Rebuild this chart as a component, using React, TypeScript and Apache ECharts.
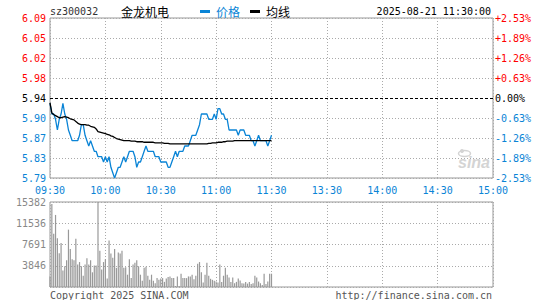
import { useEffect, useRef } from "react";
import * as echarts from "echarts";

const PRECLOSE = 5.94;
const STEP = 0.0375;
const VOL_MAX = 15382;

const timeTicks = ["09:30", "10:00", "10:30", "11:00", "11:30", "13:30", "14:00", "14:30", "15:00"];
const priceTicks = ["5.79", "5.83", "5.87", "5.90", "5.94", "5.98", "6.02", "6.05", "6.09"];
const pctTicks = ["-2.53%", "-1.89%", "-1.26%", "-0.63%", "0.00%", "+0.63%", "+1.26%", "+1.89%", "+2.53%"];
const volTicks = ["", "3846", "7691", "11536", "15382"];

// minute-by-minute price 09:30 .. 11:30
const prices = [
  5.93, 5.91, 5.91, 5.90, 5.88, 5.90, 5.91, 5.93, 5.91, 5.90,
  5.88, 5.87, 5.86, 5.86, 5.86, 5.86, 5.87, 5.89, 5.89, 5.87,
  5.86, 5.85, 5.86, 5.85, 5.84, 5.84, 5.83, 5.83, 5.83, 5.82,
  5.83, 5.82, 5.83, 5.81, 5.80, 5.79, 5.80, 5.81, 5.81, 5.82,
  5.83, 5.82, 5.83, 5.84, 5.84, 5.84, 5.83, 5.81, 5.82, 5.82,
  5.83, 5.84, 5.85, 5.84, 5.84, 5.84, 5.84, 5.83, 5.83, 5.83,
  5.82, 5.82, 5.82, 5.82, 5.81, 5.81, 5.82, 5.83, 5.84, 5.83,
  5.84, 5.84, 5.84, 5.85, 5.85, 5.85, 5.86, 5.87, 5.87, 5.87,
  5.88, 5.89, 5.91, 5.91, 5.91, 5.91, 5.90, 5.90, 5.90, 5.91,
  5.90, 5.92, 5.92, 5.91, 5.91, 5.90, 5.90, 5.88, 5.88, 5.88,
  5.88, 5.88, 5.87, 5.88, 5.88, 5.88, 5.87, 5.87, 5.87, 5.86,
  5.86, 5.85, 5.86, 5.87, 5.86, 5.86, 5.86, 5.86, 5.85, 5.86,
  5.87,
];

const avgPrices = [
  5.931, 5.912, 5.909, 5.907, 5.905, 5.903, 5.903, 5.904, 5.905, 5.904,
  5.903, 5.901, 5.900, 5.899, 5.896, 5.893, 5.891, 5.890, 5.890, 5.890,
  5.889, 5.889, 5.887, 5.886, 5.885, 5.882, 5.877, 5.876, 5.875, 5.874,
  5.873, 5.872, 5.871, 5.869, 5.868, 5.866, 5.864, 5.863, 5.862, 5.861,
  5.860, 5.860, 5.860, 5.860, 5.859, 5.859, 5.859, 5.858, 5.858, 5.858,
  5.858, 5.857, 5.857, 5.857, 5.857, 5.857, 5.857, 5.856, 5.856, 5.856,
  5.856, 5.856, 5.855, 5.855, 5.855, 5.854, 5.854, 5.854, 5.854, 5.854,
  5.854, 5.854, 5.854, 5.854, 5.854, 5.854, 5.854, 5.854, 5.854, 5.854,
  5.854, 5.854, 5.854, 5.854, 5.854, 5.854, 5.855, 5.855, 5.856, 5.856,
  5.856, 5.857, 5.857, 5.857, 5.858, 5.858, 5.859, 5.859, 5.859, 5.859,
  5.860, 5.860, 5.860, 5.860, 5.860, 5.860, 5.860, 5.860, 5.860, 5.860,
  5.860, 5.860, 5.860, 5.860, 5.860, 5.860, 5.860, 5.860, 5.860, 5.860,
  5.860,
];

const volumes = [
  1916, 15017, 9641, 13040, 8837, 6118, 7972, 2966, 3770, 4820,
  10382, 6860, 5006, 4820, 8714, 4079, 4511, 3770, 2039, 4079,
  5191, 4079, 4820, 2657, 3893, 3893, 15382, 6551, 3152, 4511,
  5006, 1545, 8405, 6056, 5315, 6860, 3461, 6242, 6056, 6551,
  3461, 3584, 2225, 5006, 1607, 4079, 4388, 4820, 3770, 2225,
  1112, 3461, 3646, 2039, 1298, 2225, 1112, 680, 1607, 1298,
  1545, 1607, 927, 1545, 1792, 1916, 1607, 1607, 185, 1916,
  185, 2410, 1607, 1607, 1607, 1916, 1916, 2225, 1421, 2039,
  4202, 4511, 2657, 803, 2225, 4388, 2039, 1483, 1298, 1112,
  989, 803, 4079, 927, 2039, 3461, 2225, 1730, 927, 1730,
  680, 927, 1545, 1174, 680, 618, 927, 618, 927, 556,
  680, 2039, 1730, 989, 680, 371, 2410, 556, 989, 2410,
  2410,
];

const BLUE = "#0a84d6";
const RED = "#ff0000";
const MONO = "'DejaVu Sans Mono', monospace";
const CJK = "'Noto Sans CJK SC', sans-serif";

export default function App() {
  const ref = useRef<HTMLDivElement>(null);
  useEffect(() => {
    if (!ref.current) return;
    const chart = echarts.init(ref.current, undefined, { renderer: "svg" });
    const levelColor = (v: any) => {
      const n = Number(v);
      return n > 0.001 ? RED : n < -0.001 ? BLUE : "#000";
    };
    const gridLineColors = ["#aaa", "#aaa", "#aaa", "#aaa", "rgba(0,0,0,0)", "#aaa", "#aaa", "#aaa", "#aaa"];
    const option: any = {
      animation: false,
      backgroundColor: "#fff",
      grid: [
        { left: 50, right: 52, top: 18, height: 160, show: true, borderColor: "#999", borderWidth: 1 },
        { left: 50, right: 52, top: 202, height: 85, show: true, borderColor: "#999", borderWidth: 1 },
      ],
      xAxis: [
        {
          type: "value", gridIndex: 0, min: 0, max: 240, interval: 30,
          axisLine: { show: false }, axisTick: { show: false },
          splitLine: { show: true, lineStyle: { color: "#aaa", type: [1, 2], width: 1 } },
          axisLabel: {
            formatter: (v: number) => timeTicks[Math.round(v / 30)] ?? "",
            color: BLUE, fontFamily: MONO, fontSize: 10, margin: 7,
          },
        },
        {
          type: "value", gridIndex: 1, min: 0, max: 240, interval: 30,
          axisLine: { show: false }, axisTick: { show: false }, axisLabel: { show: false },
          splitLine: { show: true, lineStyle: { color: "#aaa", type: [1, 2], width: 1 } },
        },
      ],
      yAxis: [
        {
          type: "value", gridIndex: 0, min: -4, max: 4, interval: 1, position: "left",
          axisLine: { show: false }, axisTick: { show: false },
          splitLine: { show: true, lineStyle: { color: gridLineColors, type: [1, 2], width: 1 } },
          axisLabel: {
            formatter: (v: number) => priceTicks[Math.round(v + 4)] ?? "",
            color: levelColor, fontFamily: MONO, fontSize: 10, margin: 4,
          },
        },
        {
          type: "value", gridIndex: 0, min: -4, max: 4, interval: 1, position: "right",
          axisLine: { show: false }, axisTick: { show: false }, splitLine: { show: false },
          axisLabel: {
            formatter: (v: number) => pctTicks[Math.round(v + 4)] ?? "",
            color: levelColor, fontFamily: MONO, fontSize: 10, margin: 2,
          },
        },
        {
          type: "value", gridIndex: 1, min: 0, max: VOL_MAX, interval: VOL_MAX / 4,
          axisLine: { show: false }, axisTick: { show: false },
          splitLine: { show: true, lineStyle: { color: "#aaa", type: [1, 2], width: 1 } },
          axisLabel: {
            formatter: (v: number) => volTicks[Math.round(v / (VOL_MAX / 4))] ?? "",
            color: "#888", fontFamily: MONO, fontSize: 10, margin: 4,
          },
        },
      ],
      series: [
        {
          name: "价格", type: "line", xAxisIndex: 0, yAxisIndex: 0,
          data: prices.map((p, i) => [i, (p - PRECLOSE) / STEP]),
          showSymbol: false, symbol: "none",
          lineStyle: { color: BLUE, width: 1.3 },
          markLine: {
            silent: true, symbol: ["none", "none"], label: { show: false },
            lineStyle: { color: "#000", type: [3, 2], width: 1 },
            data: [{ yAxis: 0 }],
          },
        },
        {
          name: "均线", type: "line", xAxisIndex: 0, yAxisIndex: 0,
          data: avgPrices.map((p, i) => [i, (p - PRECLOSE) / STEP]),
          showSymbol: false, symbol: "none",
          lineStyle: { color: "#000", width: 1.3 },
        },
        {
          name: "成交量", type: "bar", xAxisIndex: 1, yAxisIndex: 2,
          data: volumes.map((v, i) => [i, v]),
          barWidth: 1.2,
          itemStyle: { color: "#999" },
        },
      ],
      graphic: [
        { type: "text", left: 50, top: 6, style: { text: "sz300032", font: `10px ${MONO}`, fill: "#333" } },
        { type: "text", left: 121, top: 5, style: { text: "金龙机电", font: `12px ${CJK}`, fill: "#000" } },
        { type: "rect", left: 200, top: 10, shape: { width: 10, height: 3 }, style: { fill: BLUE } },
        { type: "text", left: 216, top: 5, style: { text: "价格", font: `12px ${CJK}`, fill: BLUE } },
        { type: "rect", left: 250, top: 10, shape: { width: 10, height: 3 }, style: { fill: "#000" } },
        { type: "text", left: 266, top: 5, style: { text: "均线", font: `12px ${CJK}`, fill: "#000" } },
        { type: "text", right: 54, top: 6, style: { text: "2025-08-21 11:30:00", font: `10px ${MONO}`, fill: "#000" } },
        { type: "ellipse", left: 456, top: 148, shape: { cx: 6, cy: 3, rx: 6, ry: 3 }, style: { fill: "none", stroke: "#d4d4d4", lineWidth: 1.5 } },
        { type: "circle", left: 460, top: 149, shape: { cx: 2, cy: 2, r: 2 }, style: { fill: "#d4d4d4" } },
        { type: "text", left: 458, top: 154, style: { text: "sina", font: "italic bold 16px 'Liberation Sans', sans-serif", fill: "#d4d4d4" } },
        { type: "text", left: 50, top: 290, style: { text: "Copyright 2025 SINA.COM", font: `10px ${MONO}`, fill: "#555" } },
        { type: "text", right: 53, top: 290, style: { text: "http://finance.sina.com.cn", font: `10px ${MONO}`, fill: "#555" } },
      ],
    };
    chart.setOption(option);
    return () => chart.dispose();
  }, []);
  return (
    <div
      ref={ref}
      style={{ position: "fixed", left: 0, top: 0, width: 545, height: 300, background: "#fff" }}
    />
  );
}
